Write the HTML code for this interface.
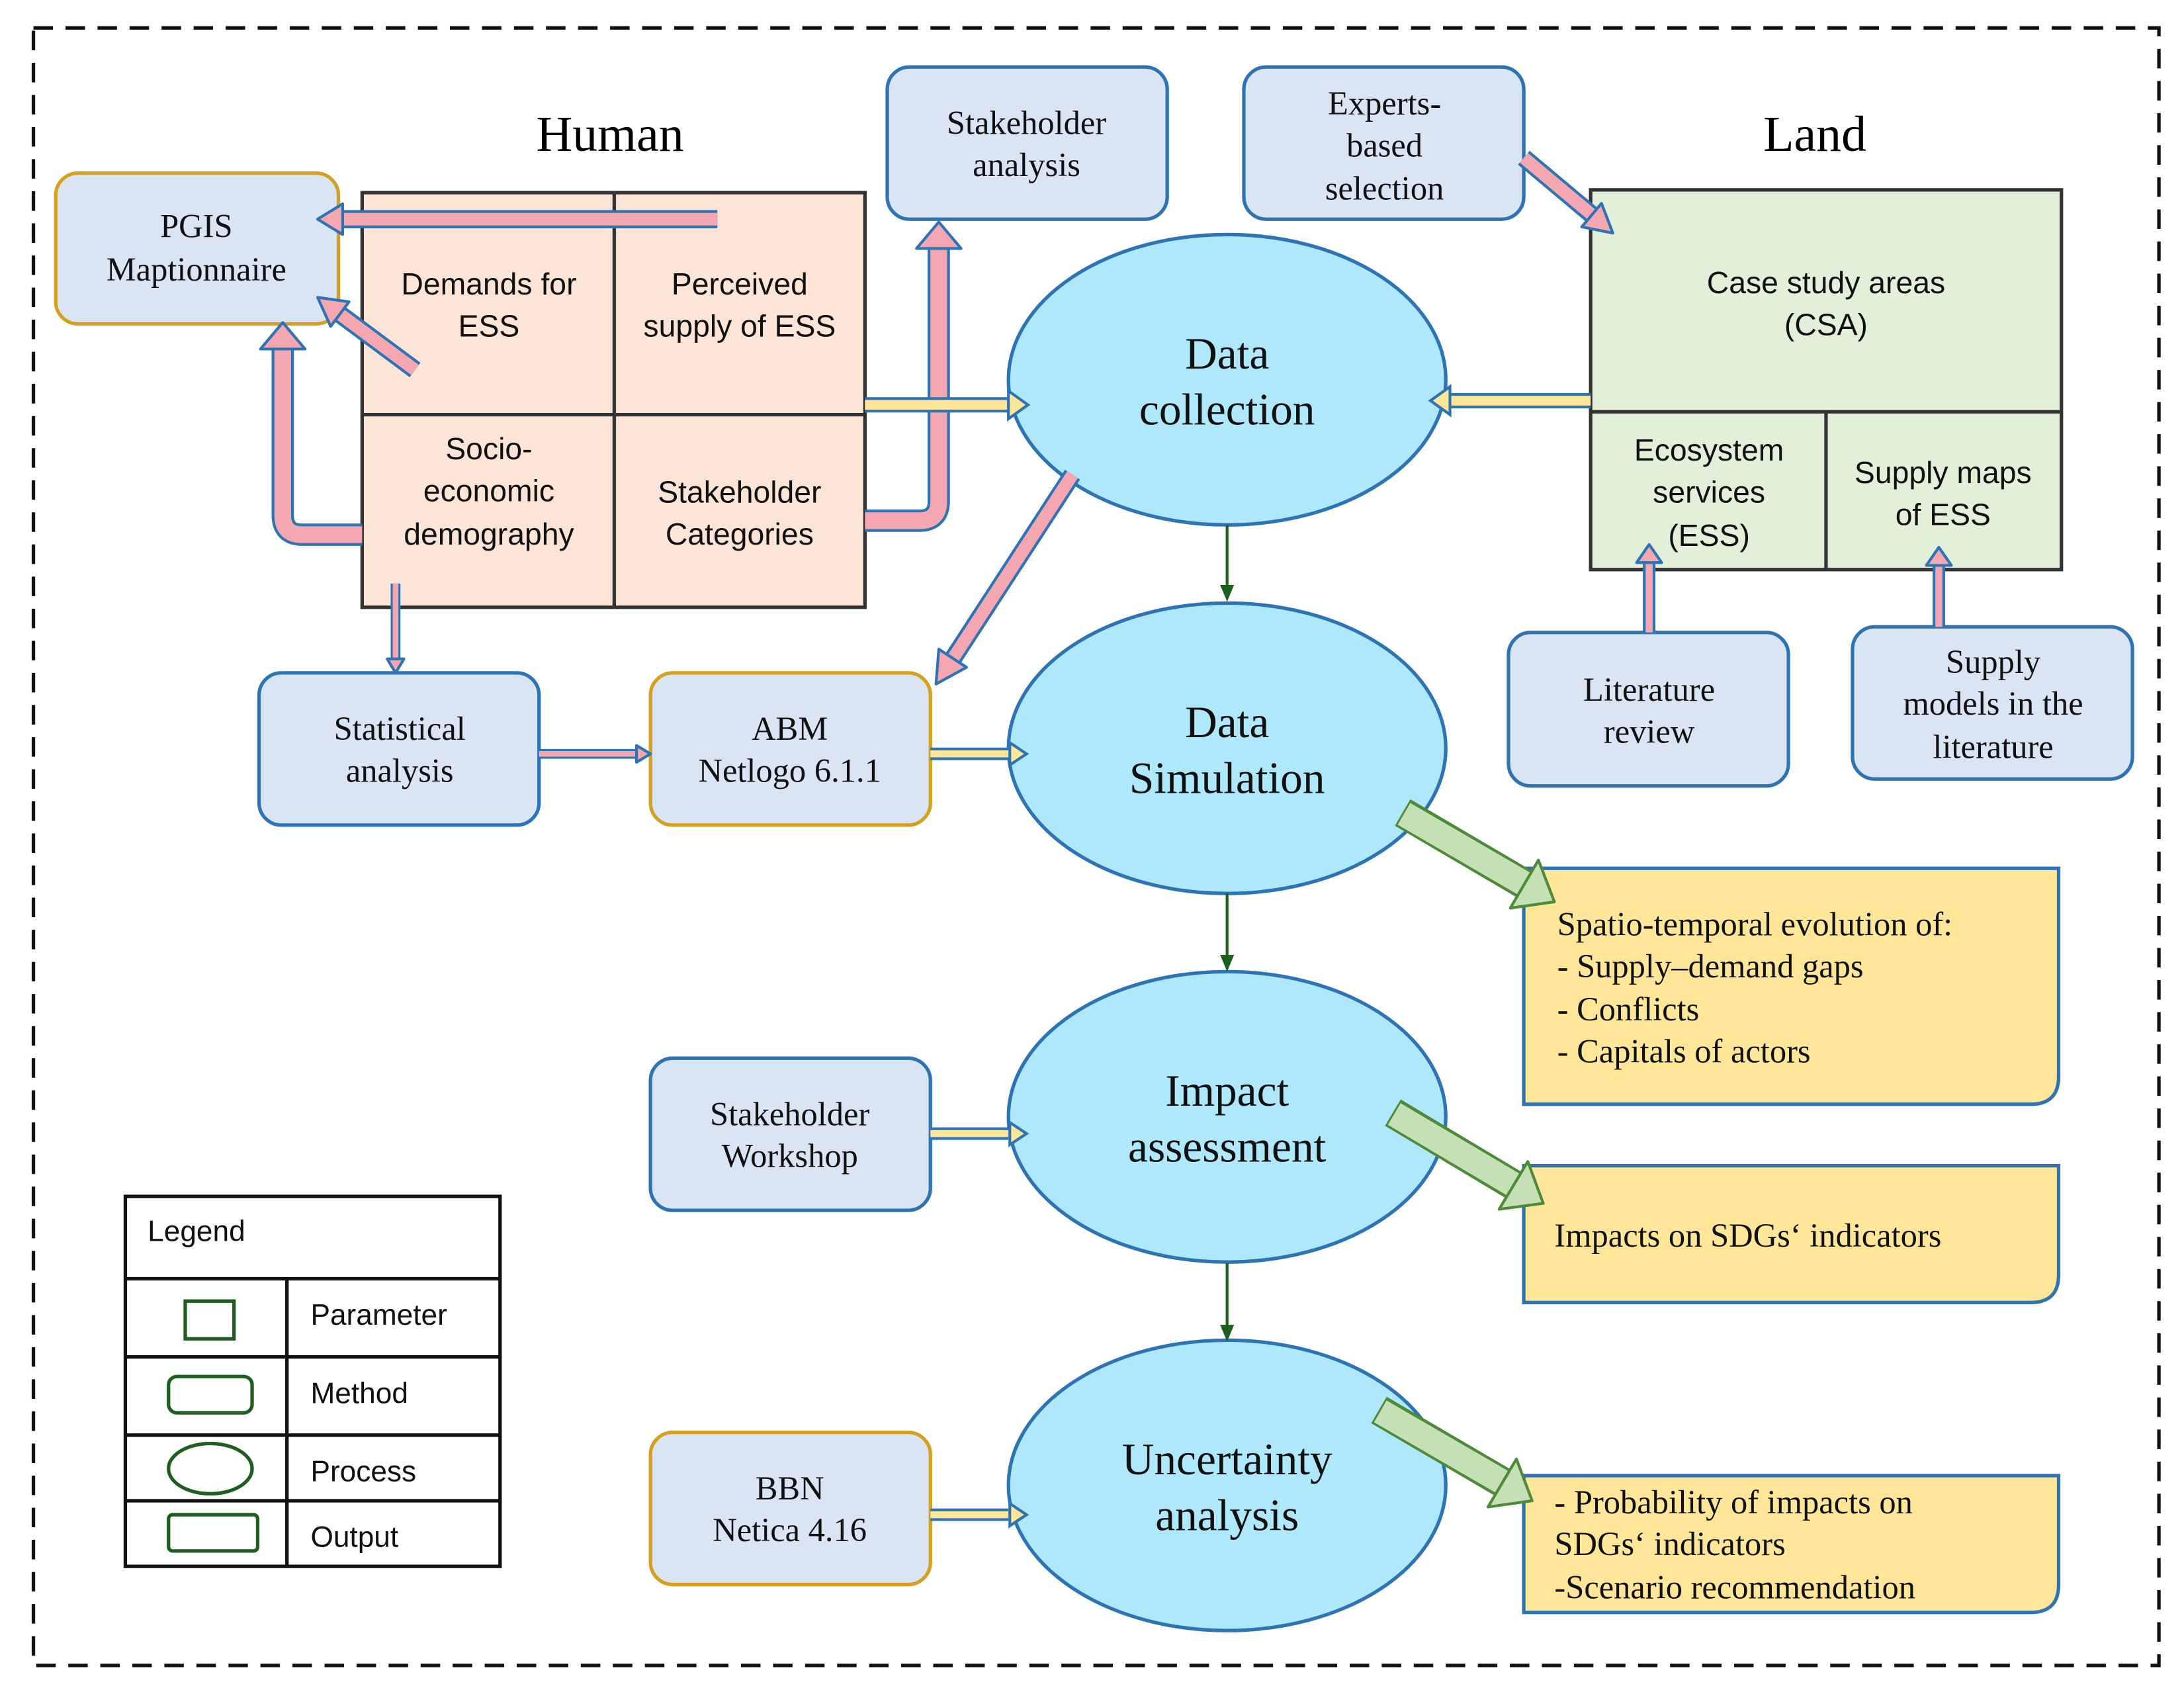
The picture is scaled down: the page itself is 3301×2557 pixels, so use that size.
<!DOCTYPE html>
<html><head><meta charset="utf-8"><style>
html,body{margin:0;padding:0;background:#fff}
svg{display:block}
.se{font-family:"Liberation Serif",serif}
.sa{font-family:"Liberation Sans",sans-serif}
</style></head><body>
<svg width="3301" height="2557" viewBox="0 0 1568 1212" preserveAspectRatio="none" xmlns="http://www.w3.org/2000/svg">
<rect x="0" y="0" width="1568" height="1212" fill="#fff"/>
<rect x="24" y="20" width="1526" height="1173" fill="none" stroke="#111" stroke-width="2.5" stroke-dasharray="14,9"/>

<text x="438" y="108" class="se" font-size="36" text-anchor="middle">Human</text>
<text x="1303" y="108" class="se" font-size="36" text-anchor="middle">Land</text>

<!-- Human grid -->
<rect x="260" y="138" width="361" height="297" fill="#fce4d6" stroke="#333" stroke-width="2.5"/>
<line x1="441" y1="138" x2="441" y2="435" stroke="#333" stroke-width="2.5"/>
<line x1="260" y1="297" x2="621" y2="297" stroke="#333" stroke-width="2.5"/>
<g class="sa" font-size="22" text-anchor="middle" fill="#111">
<text x="351" y="211">Demands for</text><text x="351" y="241">ESS</text>
<text x="531" y="211">Perceived</text><text x="531" y="241">supply of ESS</text>
<text x="351" y="329">Socio-</text><text x="351" y="359">economic</text><text x="351" y="390">demography</text>
<text x="531" y="360">Stakeholder</text><text x="531" y="390">Categories</text>
</g>

<!-- Land grid -->
<rect x="1142" y="136" width="338" height="272" fill="#e2efd9" stroke="#333" stroke-width="2.5"/>
<line x1="1142" y1="295" x2="1480" y2="295" stroke="#333" stroke-width="2.5"/>
<line x1="1311" y1="295" x2="1311" y2="408" stroke="#333" stroke-width="2.5"/>
<g class="sa" font-size="22" text-anchor="middle" fill="#111">
<text x="1311" y="210">Case study areas</text><text x="1311" y="240">(CSA)</text>
<text x="1227" y="330">Ecosystem</text><text x="1227" y="360">services</text><text x="1227" y="391">(ESS)</text>
<text x="1395" y="346">Supply maps</text><text x="1395" y="376">of ESS</text>
</g>

<!-- method boxes -->
<g fill="#dae5f3" stroke-width="2.5">
<rect x="40" y="124" width="203" height="108" rx="16" stroke="#d4a020"/>
<rect x="637" y="48" width="201" height="109" rx="16" stroke="#2e74b5"/>
<rect x="893" y="48" width="201" height="109" rx="16" stroke="#2e74b5"/>
<rect x="186" y="482" width="201" height="109" rx="16" stroke="#2e74b5"/>
<rect x="467" y="482" width="201" height="109" rx="16" stroke="#d4a020"/>
<rect x="1083" y="453" width="201" height="110" rx="16" stroke="#2e74b5"/>
<rect x="1330" y="449" width="201" height="109" rx="16" stroke="#2e74b5"/>
<rect x="467" y="758" width="201" height="109" rx="16" stroke="#2e74b5"/>
<rect x="467" y="1026" width="201" height="109" rx="16" stroke="#d4a020"/>
</g>
<g class="se" font-size="24" text-anchor="middle" fill="#111">
<text x="141" y="170">PGIS</text><text x="141" y="201">Maptionnaire</text>
<text x="737" y="96">Stakeholder</text><text x="737" y="126">analysis</text>
<text x="994" y="82">Experts-</text><text x="994" y="112">based</text><text x="994" y="143">selection</text>
<text x="287" y="530">Statistical</text><text x="287" y="560">analysis</text>
<text x="567" y="530">ABM</text><text x="567" y="560">Netlogo 6.1.1</text>
<text x="1184" y="502">Literature</text><text x="1184" y="532">review</text>
<text x="1431" y="482">Supply</text><text x="1431" y="512">models in the</text><text x="1431" y="543">literature</text>
<text x="567" y="806">Stakeholder</text><text x="567" y="836">Workshop</text>
<text x="567" y="1074">BBN</text><text x="567" y="1104">Netica 4.16</text>
</g>

<!-- ellipses -->
<g fill="#aee8fa" stroke="#2e74b5" stroke-width="2.5">
<ellipse cx="881" cy="272" rx="157" ry="104"/>
<ellipse cx="881" cy="536" rx="157" ry="104"/>
<ellipse cx="881" cy="800" rx="157" ry="104"/>
<ellipse cx="881" cy="1064" rx="157" ry="104"/>
</g>
<g class="se" font-size="32" text-anchor="middle" fill="#111">
<text x="881" y="264">Data</text><text x="881" y="304">collection</text>
<text x="881" y="528">Data</text><text x="881" y="568">Simulation</text>
<text x="881" y="792">Impact</text><text x="881" y="832">assessment</text>
<text x="881" y="1056">Uncertainty</text><text x="881" y="1096">analysis</text>
</g>

<!-- outputs -->
<g fill="#ffe699" stroke="#2e74b5" stroke-width="2.5">
<path d="M1094,622 H1478 V771 Q1478,791 1458,791 H1094 Z"/>
<path d="M1094,835 H1478 V913 Q1478,933 1458,933 H1094 Z"/>
<path d="M1094,1057 H1478 V1135 Q1478,1155 1458,1155 H1094 Z"/>
</g>
<g class="se" font-size="24" fill="#111">
<text x="1118" y="670">Spatio-temporal evolution of:</text>
<text x="1118" y="700">- Supply–demand  gaps</text>
<text x="1118" y="731">- Conflicts</text>
<text x="1118" y="761">- Capitals of actors</text>
<text x="1116" y="893">Impacts on SDGs‘ indicators</text>
<text x="1116" y="1084">- Probability of impacts on</text>
<text x="1116" y="1114">SDGs‘ indicators</text>
<text x="1116" y="1145">-Scenario recommendation</text>
</g>

<!-- legend -->
<g stroke="#111" stroke-width="2.5" fill="none">
<rect x="90" y="857" width="269" height="265"/>
<line x1="90" y1="916" x2="359" y2="916"/>
<line x1="90" y1="972" x2="359" y2="972"/>
<line x1="90" y1="1028" x2="359" y2="1028"/>
<line x1="90" y1="1075" x2="359" y2="1075"/>
<line x1="206" y1="916" x2="206" y2="1122"/>
</g>
<g stroke="#1e5e20" stroke-width="2.5" fill="none">
<rect x="133" y="932" width="35" height="27"/>
<rect x="121" y="986" width="60" height="26" rx="6"/>
<ellipse cx="151" cy="1052" rx="30" ry="18"/>
<rect x="121" y="1085" width="64" height="26" rx="3"/>
</g>
<g class="sa" font-size="21" fill="#111">
<text x="106" y="889">Legend</text>
<text x="223" y="949">Parameter</text>
<text x="223" y="1005">Method</text>
<text x="223" y="1061">Process</text>
<text x="223" y="1108">Output</text>
</g>

<!-- dark green arrows -->
<g stroke="#1e5e20" stroke-width="2" fill="#1e5e20">
<line x1="881" y1="376" x2="881" y2="420"/><polygon points="876,419 886,419 881,431" stroke="none"/>
<line x1="881" y1="640" x2="881" y2="685"/><polygon points="876,684 886,684 881,696" stroke="none"/>
<line x1="881" y1="905" x2="881" y2="950"/><polygon points="876,949 886,949 881,961" stroke="none"/>
</g>

<!-- pink arrows: outline then fill -->
<g fill="none" stroke="#2e74b5" stroke-linejoin="round">
<path d="M515,157 H244" stroke-width="13"/>
<path d="M298,265 L244,225" stroke-width="13"/>
<path d="M260,383 H217 Q203,383 203,369 V250" stroke-width="16"/>
<path d="M621,373 H660 Q674,373 674,359 V178" stroke-width="16"/>
<path d="M770,340 L684,472" stroke-width="13"/>
<path d="M284,418 V474" stroke-width="7"/>
<path d="M387,540 H459" stroke-width="7"/>
<path d="M1094,113 L1143,154" stroke-width="13"/>
<path d="M1184,453 V402" stroke-width="9"/>
<path d="M1392,449 V404" stroke-width="9"/>
</g>
<g fill="none" stroke="#f4a7b0" stroke-linejoin="round">
<path d="M515,157 H244" stroke-width="9"/>
<path d="M298,265 L244,225" stroke-width="9"/>
<path d="M260,383 H217 Q203,383 203,369 V248" stroke-width="12"/>
<path d="M621,373 H660 Q674,373 674,359 V176" stroke-width="12"/>
<path d="M770,340 L684,472" stroke-width="9"/>
<path d="M284,418 V474" stroke-width="4"/>
<path d="M387,540 H459" stroke-width="4"/>
<path d="M1094,113 L1143,154" stroke-width="9"/>
<path d="M1184,453 V402" stroke-width="5"/>
<path d="M1392,449 V404" stroke-width="5"/>
</g>
<g fill="#f4a7b0" stroke="#2e74b5" stroke-width="2" stroke-linejoin="round">
<polygon points="246,146 246,168 228,157"/>
<polygon points="250.6,216.2 237.4,233.8 228,213"/>
<polygon points="187,250 219,250 203,231"/>
<polygon points="658,178 690,178 674,159"/>
<polygon points="694,478 674,465 672,490"/>
<polygon points="278,472 290,472 284,482"/>
<polygon points="457,534 457,546 467,540"/>
<polygon points="1135.6,162.5 1149.8,145.7 1158,167"/>
<polygon points="1175,403 1193,403 1184,390"/>
<polygon points="1383,405 1401,405 1392,392"/>
</g>

<!-- yellow arrows -->
<g fill="none" stroke="#2e74b5">
<path d="M621,290 H724" stroke-width="11"/>
<path d="M1142,287 H1040" stroke-width="11"/>
<path d="M668,540 H724" stroke-width="9"/>
<path d="M668,812 H724" stroke-width="9"/>
<path d="M668,1085 H724" stroke-width="9"/>
</g>
<g fill="none" stroke="#ffe699">
<path d="M621,290 H726" stroke-width="7"/>
<path d="M1142,287 H1038" stroke-width="7"/>
<path d="M668,540 H726" stroke-width="5"/>
<path d="M668,812 H726" stroke-width="5"/>
<path d="M668,1085 H726" stroke-width="5"/>
</g>
<g fill="#ffe699" stroke="#2e74b5" stroke-width="2">
<polygon points="724,280 724,300 738,290"/>
<polygon points="1041,277 1041,297 1027,287"/>
<polygon points="725,532 725,548 737,540"/>
<polygon points="725,804 725,820 737,812"/>
<polygon points="725,1077 725,1093 737,1085"/>
</g>

<!-- green arrows -->
<g fill="none" stroke="#4e8a3a">
<path d="M1007,582 L1094,633" stroke-width="22"/>
<path d="M1000,797 L1087,849" stroke-width="22"/>
<path d="M990,1010 L1079,1062" stroke-width="22"/>
</g>
<g fill="none" stroke="#c5e0b4">
<path d="M1008,583 L1096,634" stroke-width="18"/>
<path d="M1001,798 L1089,850" stroke-width="18"/>
<path d="M991,1011 L1081,1063" stroke-width="18"/>
</g>
<g fill="#c5e0b4" stroke="#4e8a3a" stroke-width="2" stroke-linejoin="round">
<polygon points="1084.3,650.5 1104.5,616.1 1116,646"/>
<polygon points="1076.3,866.2 1096.9,832 1108,862"/>
<polygon points="1068.3,1079.5 1088.7,1045.1 1100,1075"/>
</g>
</svg>
</body></html>
